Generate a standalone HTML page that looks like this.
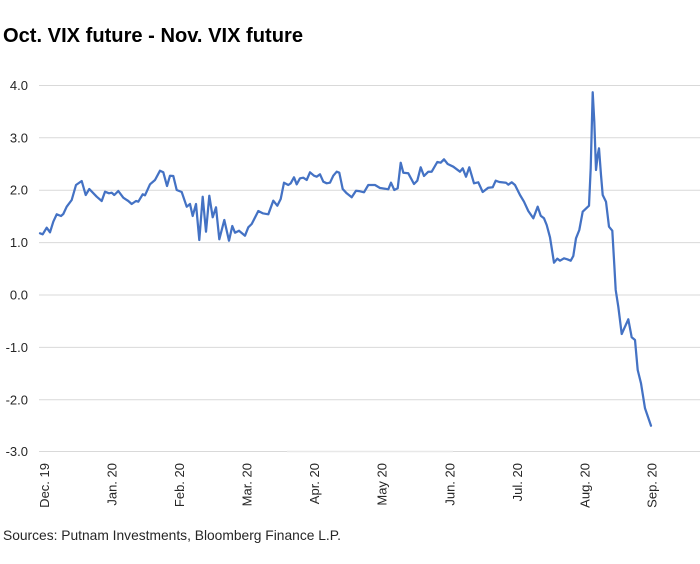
<!DOCTYPE html>
<html>
<head>
<meta charset="utf-8">
<style>
  html,body{margin:0;padding:0;background:#fff;}
  svg{display:block;}
  text{font-family:"Liberation Sans", sans-serif;fill:#262626;}
</style>
</head>
<body>
<svg width="700" height="564" viewBox="0 0 700 564" xmlns="http://www.w3.org/2000/svg">
  <rect width="700" height="564" fill="#fff"/>
  <text x="3" y="42" font-size="20" font-weight="bold" fill="#000" style="fill:#000" textLength="300" lengthAdjust="spacingAndGlyphs">Oct. VIX future - Nov. VIX future</text>

  <!-- gridlines -->
  <g stroke="#d9d9d9" stroke-width="1">
    <line x1="39" y1="85.5" x2="700" y2="85.5"/>
    <line x1="39" y1="137.8" x2="700" y2="137.8"/>
    <line x1="39" y1="190.2" x2="700" y2="190.2"/>
    <line x1="39" y1="242.6" x2="700" y2="242.6"/>
    <line x1="39" y1="295" x2="700" y2="295"/>
    <line x1="39" y1="347.4" x2="700" y2="347.4"/>
    <line x1="39" y1="399.8" x2="700" y2="399.8"/>
    <line x1="39" y1="451.5" x2="287" y2="451.5"/>
    <line x1="453" y1="451.5" x2="700" y2="451.5"/>
  </g>
  <line x1="287" y1="451.5" x2="453" y2="451.5" stroke="#e8e8e8" stroke-width="1.5"/>

  <!-- y labels -->
  <g font-size="13" text-anchor="end">
    <text x="28" y="90">4.0</text>
    <text x="28" y="142.3">3.0</text>
    <text x="28" y="194.7">2.0</text>
    <text x="28" y="247.1">1.0</text>
    <text x="28" y="299.5">0.0</text>
    <text x="28" y="351.9">-1.0</text>
    <text x="28" y="404.3">-2.0</text>
    <text x="28" y="456">-3.0</text>
  </g>

  <!-- x labels -->
  <g font-size="13" text-anchor="end">
    <text transform="translate(49,463) rotate(-90)">Dec. 19</text>
    <text transform="translate(116.5,463) rotate(-90)">Jan. 20</text>
    <text transform="translate(184,463) rotate(-90)">Feb. 20</text>
    <text transform="translate(251.5,463) rotate(-90)">Mar. 20</text>
    <text transform="translate(319,463) rotate(-90)">Apr. 20</text>
    <text transform="translate(386.5,463) rotate(-90)">May 20</text>
    <text transform="translate(454.5,463) rotate(-90)">Jun. 20</text>
    <text transform="translate(522,463) rotate(-90)">Jul. 20</text>
    <text transform="translate(589.5,463) rotate(-90)">Aug. 20</text>
    <text transform="translate(656.5,463) rotate(-90)">Sep. 20</text>
  </g>

  <!-- series -->
  <polyline fill="none" stroke="#4472C4" stroke-width="2.25" stroke-linejoin="round" stroke-linecap="round"
    points="40,233.3 42.7,234.3 46.7,227.7 50,232.3 53.3,221.7 56.7,214.3 61,216 63.3,214 66.7,206.7 71.7,200 76,185 81.7,181 85.7,195 89.3,189 96.7,196.7 101.7,201 105,191.7 109,193.3 111.7,192.7 114.3,195 118.3,191 123.3,197.7 128.3,201 131.7,204 136,201 138.3,201.7 142.7,194.3 145,195.3 150,184.3 155,180 160,170.7 163.3,172.3 167,186 170,175.7 173.3,176 176.7,190 181.7,192 186.7,206.7 190,204 192.7,216 196,204 199.3,240 202.7,196.7 206,231.7 209.3,195.7 212.7,217.3 216,207.3 219.3,239.3 224.3,220 229,240.7 232.3,226 235,232.7 239,230.7 245,235.7 248.3,227.3 251.7,224 258.3,211 262.7,213.3 268.3,214.3 273.3,200.7 277.3,205.7 280.7,199 284,182.7 288.3,185 290.7,183.3 294,177.3 296.7,184.3 300,178.3 303.3,177.7 306.7,180 310,172.3 314,175.7 316.7,176.7 320,174.3 323.3,181.7 326.7,183.3 330,182.7 333.3,175.7 336.7,171.7 339.3,172.7 342.7,189 346.7,193.3 351.7,197.3 356,190.7 360,191.3 364,192.3 368.3,185 375,185 380,188 385,188.7 388.3,189.3 391,182.7 394.3,190 397.7,188.3 400.7,162.7 403.3,172.7 408.3,173.3 414,184 417.3,180.7 420.7,167.3 424,176 428.3,171.7 431.7,171.7 437.3,162 440.7,162.7 444,159.3 447.7,164 453.3,166.7 460,171.7 462.7,168.3 466,176.7 469.3,167.3 474,183.3 478.3,182.3 482.7,192 488.3,187.7 492.7,187.3 495.7,180.7 499.3,182 506,182.7 508.3,184.7 511.7,182.3 515,185 520,195 524,201.7 528.3,211 533.3,218.3 537.7,206.7 540.7,215.7 544,218.3 546.7,225 550,237.3 554,262.7 557.3,258.7 560,260.7 564,258.3 567.3,259.3 570.7,260.7 573.3,256 576,238.3 579.3,230 582.7,211.7 589,205.7 590.7,168.3 592.7,92.3 594.3,121.7 596,170 597.7,155 599,148.3 601,175 602.7,195 606,201.7 609,226.7 612.3,230.7 614.3,265 615.7,290 618.3,306.7 621.7,334 628.3,319.3 631.7,337.3 635,340 637.7,370 641,383.3 645,408.3 651,425.7"/>

  <text x="3" y="540" font-size="14" textLength="338" lengthAdjust="spacingAndGlyphs">Sources: Putnam Investments, Bloomberg Finance L.P.</text>
</svg>
</body>
</html>
